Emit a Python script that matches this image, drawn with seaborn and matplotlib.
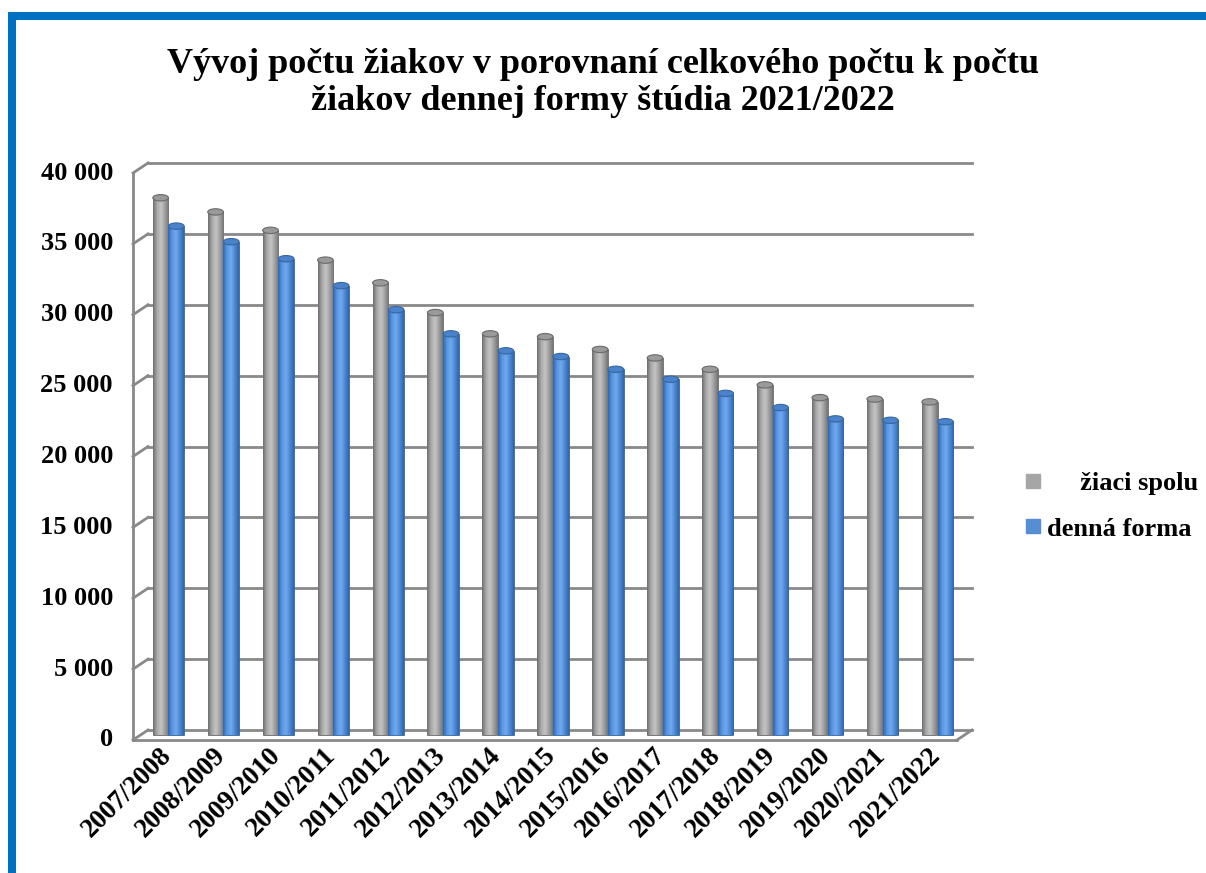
import matplotlib
matplotlib.use("Agg")
import matplotlib.pyplot as plt
import matplotlib.transforms as mtransforms
from matplotlib.colors import LinearSegmentedColormap
from matplotlib.lines import Line2D
from matplotlib.patches import Ellipse, Rectangle
import numpy as np
import pandas as pd
import seaborn as sns

# Data
skolske_roky = ["2007/2008", "2008/2009", "2009/2010", "2010/2011", "2011/2012",
                "2012/2013", "2013/2014", "2014/2015", "2015/2016", "2016/2017",
                "2017/2018", "2018/2019", "2019/2020", "2020/2021", "2021/2022"]
ziaci_spolu = [37900, 36900, 35600, 33500, 31900, 29800, 28300, 28100, 27200,
               26600, 25800, 24700, 23800, 23700, 23500]
denna_forma = [35900, 34800, 33600, 31700, 30000, 28300, 27100, 26700, 25800,
               25100, 24100, 23100, 22300, 22200, 22100]
serie = ["žiaci spolu", "denná forma"]
y_ticks = [0, 5000, 10000, 15000, 20000, 25000, 30000, 35000, 40000]

farby = {"žiaci spolu": "#A6A6A6", "denná forma": "#558ED5"}
# tiene pre "valce"
tiene = {"žiaci spolu": ["#6E6E6E", "#A8A8A8", "#C4C4C4", "#A0A0A0", "#747474"],
         "denná forma": ["#2F66AD", "#5A96E2", "#72A9EE", "#4C88D4", "#2F66AD"]}
okraje = {"žiaci spolu": "#6A6A6A", "denná forma": "#35679F"}
vrchy = {"žiaci spolu": "#9A9A9A", "denná forma": "#4A82CC"}

df = pd.DataFrame({
    "rok": skolske_roky * 2,
    "pocet": ziaci_spolu + denna_forma,
    "seria": [serie[0]] * len(skolske_roky) + [serie[1]] * len(skolske_roky),
})

plt.rcParams["font.family"] = ["Liberation Serif", "DejaVu Serif"]
plt.rcParams["font.weight"] = "bold"

fig = plt.figure(figsize=(12.06, 8.73), dpi=100)
ax = fig.add_axes([148 / 1206, 1 - 730 / 873, 824 / 1206, 567 / 873])

sns.barplot(data=df, x="rok", y="pocet", hue="seria", hue_order=serie,
            palette=farby, width=0.57, gap=0, legend=False, ax=ax,
            saturation=1)

px = lambda dx, dy: mtransforms.ScaledTranslation(dx / 100, dy / 100, fig.dpi_scale_trans)
bar_tr = ax.transData + px(-7, -5)

# valcovy vzhlad stlpcov
for cont, s in zip(ax.containers, serie):
    cmap = LinearSegmentedColormap.from_list(s, tiene[s])
    grad = np.linspace(0, 1, 64).reshape(1, -1)
    for p in cont.patches:
        x0, w, h = p.get_x(), p.get_width(), p.get_height()
        p.set_transform(bar_tr)
        p.set_clip_on(False)
        p.set_edgecolor(okraje[s])
        p.set_linewidth(0.6)
        im = ax.imshow(grad, cmap=cmap, aspect="auto", extent=[x0, x0 + w, 0, h],
                       transform=bar_tr, zorder=p.get_zorder() + 0.1)
        im.set_clip_on(False)
        ell = Ellipse((x0 + w / 2, h), w, 450, facecolor=vrchy[s],
                      edgecolor=okraje[s], lw=0.8, transform=bar_tr,
                      zorder=p.get_zorder() + 0.2, clip_on=False)
        ax.add_patch(ell)

ax.set_ylim(0, 40000)
ax.set_xlim(-0.5, len(skolske_roky) - 0.5)

# 3D steny
for sp in ax.spines.values():
    sp.set_visible(False)
ax.set_xticks([])
ax.set_yticks([])
ax.set_xlabel("")
ax.set_ylabel("")
ax.patch.set_alpha(0)

mriezka = "#898989"
ytr = ax.get_yaxis_transform()
ytr_front = ytr + px(-15, -10)
W, H = fig.bbox.width, fig.bbox.height
for t in y_ticks:
    ax.plot([0, 1], [t, t], transform=ytr, color=mriezka, lw=2, zorder=0, clip_on=False)
    # sikma spojnica na lavej stene
    p_back = ytr.transform((0, t))
    p_front = ytr_front.transform((0, t))
    fig.add_artist(Line2D([p_back[0] / W, p_front[0] / W], [p_back[1] / H, p_front[1] / H],
                          color=mriezka, lw=2, transform=fig.transFigure))
    ax.text(0, t, f"{t:,.0f}".replace(",", " "), transform=ytr_front + px(-20, 0),
            ha="right", va="center", fontsize=19, fontweight="bold")

front = ax.transAxes + px(-15, -10)
ax.plot([0, 0], [0, 1], transform=front, color=mriezka, lw=2, clip_on=False)
ax.plot([0, 1], [0, 0], transform=front, color=mriezka, lw=2, clip_on=False, zorder=5)
pb = ax.transAxes.transform((1, 0))
pf = front.transform((1, 0))
fig.add_artist(Line2D([pb[0] / W, pf[0] / W], [pb[1] / H, pf[1] / H],
                      color=mriezka, lw=2, transform=fig.transFigure))

# popisy osi x
xtr = ax.get_xaxis_transform() + px(-8, -22)
for i, r in enumerate(skolske_roky):
    ax.text(i, 0, r, transform=xtr, rotation=45, rotation_mode="anchor",
            ha="right", va="center", fontsize=19.5, fontweight="bold")

fig.text(0.5, 1 - 83 / 873,
         "Vývoj počtu žiakov v porovnaní celkového počtu k počtu\n"
         "žiakov dennej formy štúdia 2021/2022",
         ha="center", va="center", fontsize=26, fontweight="bold", linespacing=1.17)

handles = [Line2D([], [], marker="s", ls="", markersize=10, color=farby[s]) for s in serie]
fig.legend(handles, ["     žiaci spolu", "denná forma"], loc="center left",
           bbox_to_anchor=(1002 / 1206, 1 - 506 / 873), frameon=False,
           prop={"size": 19, "weight": "bold"}, labelspacing=0.85,
           handletextpad=0.27, handlelength=0.55)

# modry ramcek
fig.add_artist(Rectangle((12 / 1206, -0.1), 1.2, 1 - 16 / 873 + 0.1,
                         transform=fig.transFigure, fill=False,
                         edgecolor="#0070C0", lw=5.8))

fig.savefig("out.png", dpi=100)
